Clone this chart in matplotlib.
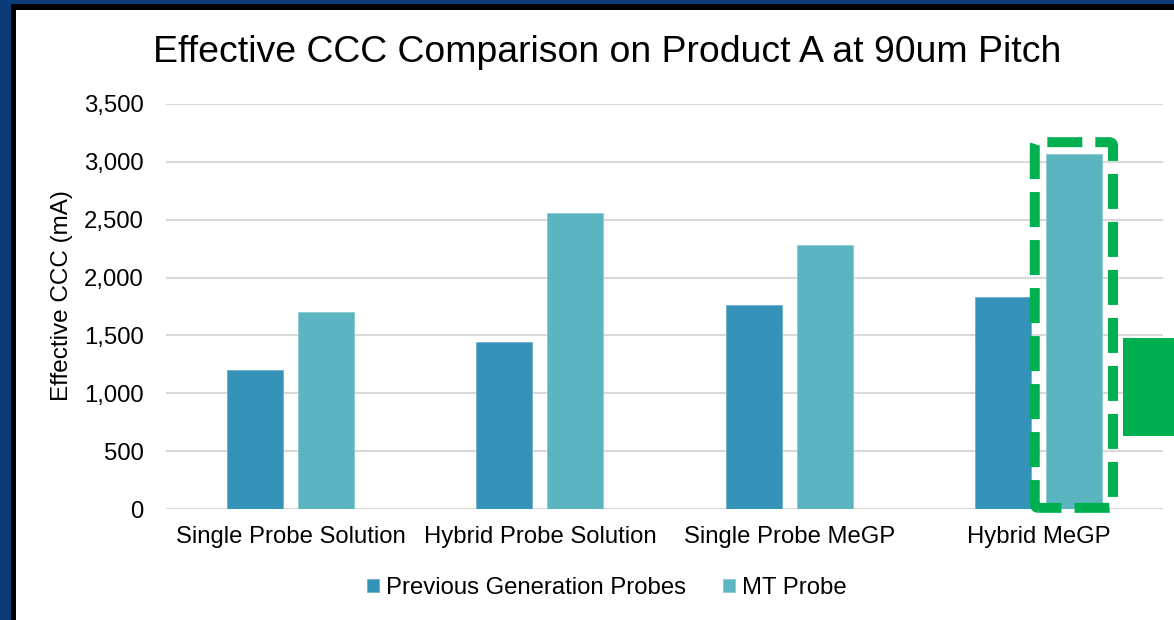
import matplotlib
matplotlib.use("Agg")
import matplotlib.pyplot as plt
import numpy as np
from matplotlib.patches import Rectangle, FancyBboxPatch

categories = ["Single Probe Solution", "Hybrid Probe Solution", "Single Probe MeGP", "Hybrid MeGP"]
series_names = ["Previous Generation Probes", "MT Probe"]
prev_gen = [1200, 1440, 1760, 1830]
mt_probe = [1700, 2560, 2280, 3070]
yticks = [0, 500, 1000, 1500, 2000, 2500, 3000, 3500]

plt.rcParams["font.family"] = ["Liberation Sans", "DejaVu Sans"]

W, H = 1174, 620
fig = plt.figure(figsize=(W / 100, H / 100), dpi=100)
fig.patch.set_facecolor("#0B3C78")

# slide frame: black border and white panel, kept behind the axes
fig.patches.append(Rectangle((11 / W, 0), 1, 1 - 4 / H, transform=fig.transFigure,
                             facecolor="black", edgecolor="none", zorder=-10))
fig.patches.append(Rectangle((16 / W, 0), 1, 1 - 10 / H, transform=fig.transFigure,
                             facecolor="white", edgecolor="none", zorder=-9))

ax = fig.add_axes([166 / W, (H - 509) / H, (1163 - 166) / W, (509 - 104) / H])
ax.set_facecolor("none")
ax.set_zorder(0)

x = np.arange(len(categories))
bw = 0.225
off = 0.1425
c_prev = "#3592B9"
c_mt = "#5AB5C0"
b1 = ax.bar(x - off, prev_gen, bw, color=c_prev, edgecolor="#6FAFCB", linewidth=0.6,
            label=series_names[0], zorder=3)
b2 = ax.bar(x + off, mt_probe, bw, color=c_mt, edgecolor="#8CCAD2", linewidth=0.6,
            label=series_names[1], zorder=3)

ax.set_xlim(-0.5, len(categories) - 0.5)
ax.set_ylim(0, 3500)
ax.set_yticks(yticks)
ax.set_yticklabels([f"{v:,}" for v in yticks])
ax.set_xticks(x)
ax.set_xticklabels(categories)
ax.grid(axis="y", color="#D9D9D9", linewidth=1.5, zorder=0)
ax.set_axisbelow(True)
for s in ax.spines.values():
    s.set_visible(False)
ax.tick_params(axis="both", length=0, labelsize=17.2, colors="black")
ax.tick_params(axis="y", pad=16)
ax.tick_params(axis="x", pad=12)

# dashed highlight around the best result
i = len(categories) - 1
hx0 = x[i] + off - 0.157
hx1 = x[i] + off + 0.157
hy0 = 10
hy1 = mt_probe[i] + 100
px_per_x = 997 / 4
px_per_y = 405 / 3500
hl = FancyBboxPatch((hx0, hy0), hx1 - hx0, hy1 - hy0,
                    boxstyle="round,pad=0,rounding_size=0.015",
                    mutation_aspect=px_per_x / px_per_y,
                    facecolor="none", edgecolor="#00B050", linewidth=7.2,
                    linestyle=(1.2, (3.5, 1.3)), zorder=5, clip_on=False)
ax.add_patch(hl)

# green marker block at the right edge
fig.patches.append(Rectangle((1123 / W, (H - 436) / H), 1, (436 - 338) / H,
                             transform=fig.transFigure, facecolor="#00B050",
                             edgecolor="none", zorder=1))

fig.text(607 / W, 1 - 52 / H, "Effective CCC Comparison on Product A at 90um Pitch",
         ha="center", va="center", fontsize=26.9, color="black")
fig.text(62 / W, 1 - 296 / H, "Effective CCC (mA)", rotation=90,
         ha="center", va="center", fontsize=17.5, color="black")

fig.legend(handles=[b1, b2], labels=series_names, loc="center",
           bbox_to_anchor=(607 / W, 32 / H), ncol=2, frameon=False,
           fontsize=17.2, handlelength=0.5, handleheight=0.5,
           handletextpad=0.3, columnspacing=1.55)

fig.savefig("out.png", dpi=100, facecolor=fig.get_facecolor())
